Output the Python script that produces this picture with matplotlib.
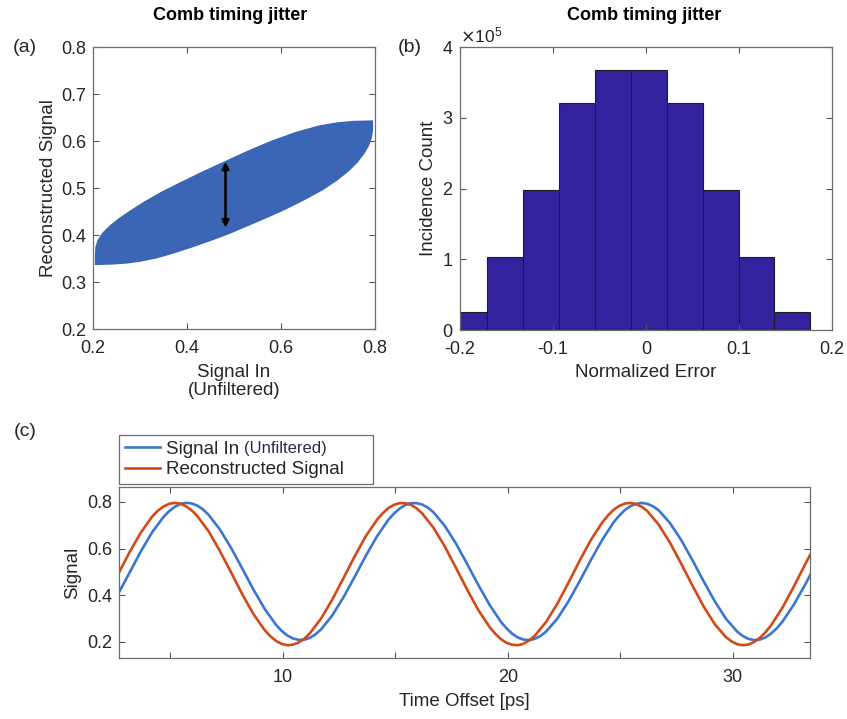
import matplotlib
matplotlib.use('Agg')
import matplotlib.pyplot as plt
import numpy as np
from matplotlib.ticker import ScalarFormatter

plt.rcParams['font.family'] = ['Liberation Sans', 'DejaVu Sans']
plt.rcParams['axes.unicode_minus'] = False

# (a) outline of the filled scatter cloud
cloud_x = [0.204, 0.240, 0.270, 0.300, 0.335, 0.370, 0.410, 0.450, 0.490, 0.530,
           0.570, 0.610, 0.650, 0.690, 0.720, 0.745, 0.763, 0.777, 0.787, 0.793,
           0.796, 0.796,
           0.755, 0.720, 0.680, 0.630, 0.580, 0.530, 0.480, 0.430, 0.385, 0.345,
           0.310, 0.280, 0.255, 0.235, 0.220, 0.210, 0.205, 0.204]
cloud_y = [0.336, 0.337, 0.339, 0.343, 0.350, 0.360, 0.373, 0.387, 0.402, 0.419,
           0.436, 0.454, 0.474, 0.496, 0.516, 0.536, 0.554, 0.572, 0.589, 0.605,
           0.622, 0.644,
           0.643, 0.640, 0.633, 0.619, 0.601, 0.580, 0.557, 0.534, 0.512, 0.492,
           0.472, 0.453, 0.436, 0.420, 0.405, 0.390, 0.375, 0.360]
arrow_x = 0.482
arrow_y = [0.416, 0.556]

# (b) histogram of normalized error
bin_edges = [-0.2091, -0.1705, -0.1319, -0.0934, -0.0548, -0.0162,
             0.0224, 0.0610, 0.0996, 0.1381, 0.1767]
hist_counts = [25000, 103000, 198000, 321000, 368000,
               368000, 321000, 198000, 103000, 25000]

# (c) time traces (ps, signal)
time_in = [2.7, 3.2, 3.7, 4.2, 4.7, 4.95, 5.2, 5.45, 5.7, 5.95,
           6.2, 6.45, 6.7, 7.2, 7.7, 8.2, 8.7, 9.2, 9.7, 9.95,
           10.2, 10.45, 10.7, 10.95, 11.2, 11.45, 11.7, 12.2, 12.7, 13.2,
           13.7, 14.2, 14.7, 14.95, 15.2, 15.45, 15.7, 15.95, 16.2, 16.45,
           16.7, 17.2, 17.7, 18.2, 18.7, 19.2, 19.7, 19.95, 20.2, 20.45,
           20.7, 20.95, 21.2, 21.45, 21.7, 22.2, 22.7, 23.2, 23.7, 24.2,
           24.7, 24.95, 25.2, 25.45, 25.7, 25.95, 26.2, 26.45, 26.7, 27.2,
           27.7, 28.2, 28.7, 29.2, 29.7, 30.2, 30.45, 30.7, 30.95, 31.2,
           31.45, 31.7, 31.95, 32.2, 32.7, 33.2, 33.7]
signal_in = [0.408, 0.497, 0.588, 0.670, 0.735, 0.760, 0.779, 0.791, 0.796, 0.794,
             0.785, 0.769, 0.746, 0.684, 0.605, 0.516, 0.425, 0.342, 0.274, 0.248,
             0.228, 0.215, 0.209, 0.209, 0.217, 0.232, 0.253, 0.313, 0.391, 0.479,
             0.570, 0.654, 0.724, 0.751, 0.772, 0.787, 0.795, 0.795, 0.789, 0.776,
             0.756, 0.698, 0.622, 0.534, 0.443, 0.358, 0.286, 0.258, 0.235, 0.219,
             0.210, 0.208, 0.213, 0.225, 0.244, 0.299, 0.374, 0.461, 0.552, 0.638,
             0.712, 0.741, 0.765, 0.782, 0.792, 0.796, 0.792, 0.782, 0.765, 0.711,
             0.638, 0.552, 0.461, 0.374, 0.299, 0.244, 0.225, 0.213, 0.208, 0.210,
             0.219, 0.236, 0.258, 0.286, 0.358, 0.443, 0.534]
time_rec = [2.7, 3.2, 3.7, 4.2, 4.45, 4.7, 4.95, 5.2, 5.45, 5.7,
            5.95, 6.2, 6.7, 7.2, 7.7, 8.2, 8.7, 9.2, 9.45, 9.7,
            9.95, 10.2, 10.45, 10.7, 10.95, 11.2, 11.7, 12.2, 12.7, 13.2,
            13.7, 14.2, 14.45, 14.7, 14.95, 15.2, 15.45, 15.7, 15.95, 16.2,
            16.7, 17.2, 17.7, 18.2, 18.7, 19.2, 19.45, 19.7, 19.95, 20.2,
            20.45, 20.7, 20.95, 21.2, 21.7, 22.2, 22.7, 23.2, 23.7, 24.2,
            24.45, 24.7, 24.95, 25.2, 25.45, 25.7, 25.95, 26.2, 26.7, 27.2,
            27.7, 28.2, 28.7, 29.2, 29.7, 29.95, 30.2, 30.45, 30.7, 30.95,
            31.2, 31.45, 31.7, 32.2, 32.7, 33.2, 33.7]
reconstructed = [0.492, 0.585, 0.669, 0.737, 0.762, 0.780, 0.792, 0.796, 0.793, 0.782,
                 0.765, 0.741, 0.676, 0.592, 0.500, 0.406, 0.320, 0.251, 0.225, 0.205,
                 0.192, 0.186, 0.188, 0.197, 0.213, 0.236, 0.299, 0.381, 0.473, 0.567,
                 0.654, 0.725, 0.752, 0.774, 0.788, 0.795, 0.795, 0.788, 0.773, 0.751,
                 0.690, 0.610, 0.518, 0.424, 0.336, 0.263, 0.235, 0.212, 0.196, 0.188,
                 0.186, 0.192, 0.206, 0.226, 0.285, 0.363, 0.454, 0.549, 0.638, 0.712,
                 0.742, 0.766, 0.783, 0.793, 0.796, 0.791, 0.780, 0.761, 0.704, 0.627,
                 0.537, 0.443, 0.353, 0.276, 0.220, 0.202, 0.190, 0.186, 0.189, 0.200,
                 0.217, 0.241, 0.271, 0.346, 0.435, 0.530, 0.621]
time_ticks = [5, 10, 15, 20, 25, 30]
time_labels = ['', '10', '', '20', '', '30']

BLUE = '#3b76d0'
RED = '#d2491a'
TXT = '#262626'


def matlab_axes(ax):
    for s in ax.spines.values():
        s.set_color('#6e6e6e')
        s.set_linewidth(0.9)
    ax.tick_params(direction='in', top=True, right=True, length=4, width=0.8,
                   color='#555555', labelsize=13, labelcolor=TXT, pad=5)
    ax.tick_params(axis='x', pad=8)


fig = plt.figure(figsize=(8.47, 7.19), dpi=100)

# ---- (a)
ax_a = fig.add_axes([0.1098, 0.5424, 0.3329, 0.3922])
ax_a.fill(cloud_x, cloud_y, color='#3a66b5', lw=0)
ax_a.annotate('', xy=(arrow_x, arrow_y[1]), xytext=(arrow_x, arrow_y[0]),
              arrowprops=dict(arrowstyle='<|-|>', color='black', lw=1.8,
                              mutation_scale=10, shrinkA=0, shrinkB=0))
ax_a.set_xlim(0.2, 0.8)
ax_a.set_ylim(0.2, 0.8)
ax_a.set_xticks([0.2, 0.4, 0.6, 0.8])
ax_a.set_yticks([0.2, 0.3, 0.4, 0.5, 0.6, 0.7, 0.8])
matlab_axes(ax_a)
ax_a.set_xlabel('Signal In\n(Unfiltered)', fontsize=13.5, color=TXT, labelpad=5, linespacing=1.05)
ax_a.set_ylabel('Reconstructed Signal', fontsize=13.5, color=TXT, labelpad=3)

# ---- (b)
ax_b = fig.add_axes([0.5431, 0.5410, 0.4392, 0.3936])
ax_b.bar(bin_edges[:-1], hist_counts, width=np.diff(bin_edges), align='edge',
         color='#33229e', edgecolor='#1e1e1e', linewidth=0.8)
ax_b.set_xlim(-0.2, 0.2)
ax_b.set_ylim(0, 400000)
ax_b.set_xticks([-0.2, -0.1, 0, 0.1, 0.2])
ax_b.set_xticklabels(['-0.2', '-0.1', '0', '0.1', '0.2'])
ax_b.set_yticks([0, 100000, 200000, 300000, 400000])
fmt = ScalarFormatter(useMathText=True)
fmt.set_powerlimits((0, 0))
ax_b.yaxis.set_major_formatter(fmt)
matlab_axes(ax_b)
ax_b.yaxis.get_offset_text().set_fontsize(12.5)
ax_b.yaxis.get_offset_text().set_color(TXT)
ax_b.set_xlabel('Normalized Error', fontsize=13.5, color=TXT, labelpad=4)
ax_b.set_ylabel('Incidence Count', fontsize=13.5, color=TXT, labelpad=3)

# ---- (c)
ax_c = fig.add_axes([0.1405, 0.0848, 0.8158, 0.2378])
ax_c.plot(time_in, signal_in, color=BLUE, lw=1.9, label='Signal In')
ax_c.plot(time_rec, reconstructed, color=RED, lw=1.9, label='Reconstructed Signal')
ax_c.set_xlim(2.73, 33.43)
ax_c.set_ylim(0.131, 0.864)
ax_c.set_xticks(time_ticks)
ax_c.set_xticklabels(time_labels)
ax_c.set_yticks([0.2, 0.4, 0.6, 0.8])
matlab_axes(ax_c)
ax_c.set_xlabel('Time Offset [ps]', fontsize=13.5, color=TXT, labelpad=5)
ax_c.set_ylabel('Signal', fontsize=13.5, color=TXT, labelpad=4)

leg = fig.legend(handles=ax_c.get_lines(), loc='lower left',
                 bbox_to_anchor=(119 / 847, 1 - 484 / 719, 254 / 847, 55 / 719),
                 mode='expand', fontsize=13.5, frameon=True, fancybox=False,
                 edgecolor='#6e6e6e', framealpha=1, borderpad=0.3,
                 labelspacing=0.2, handlelength=1.9, handletextpad=0.3,
                 borderaxespad=0)
leg.get_frame().set_linewidth(0.9)
for t in leg.get_texts():
    t.set_color(TXT)

# titles and panel letters
fig.text(230 / 847, 1 - 15 / 719, 'Comb timing jitter', ha='center', va='center',
         fontsize=13, fontweight='bold', color='black')
fig.text(644 / 847, 1 - 15 / 719, 'Comb timing jitter', ha='center', va='center',
         fontsize=13, fontweight='bold', color='black')
for lbl, x, y in [('(a)', 13, 48), ('(b)', 398, 48), ('(c)', 14, 432)]:
    fig.text(x / 847, 1 - y / 719, lbl, ha='left', va='center', fontsize=14, color=TXT)

# smaller "(Unfiltered)" next to the first legend entry
fig.canvas.draw()
r = fig.canvas.get_renderer()
bb = leg.get_texts()[0].get_window_extent(r)
fig.text((bb.x1 + 5) / fig.bbox.width, (bb.y0 + 0.22 * 18.75) / fig.bbox.height,
         '(Unfiltered)', ha='left', va='baseline', fontsize=12, color='#2b2b4a',
         zorder=10)

fig.savefig('out.png', dpi=100)
